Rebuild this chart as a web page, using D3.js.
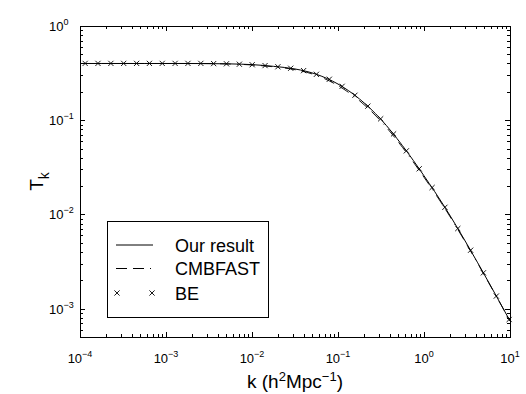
<!DOCTYPE html>
<html>
<head>
<meta charset="utf-8">
<script src="https://cdn.jsdelivr.net/npm/d3@7"></script>
<style>
  body { margin: 0; background: #fff; }
  svg { display: block; font-family: 'Liberation Sans', Arial, sans-serif; }
</style>
</head>
<body>
<div id="chart"></div>
<script>
// curves sampled every quarter decade in k
const curveK = [1e-4, 1.78e-4, 3.16e-4, 5.62e-4, 1e-3, 1.78e-3, 3.16e-3, 5.62e-3, 1e-2, 1.78e-2,
  3.16e-2, 5.62e-2, 0.1, 0.178, 0.316, 0.562, 1, 1.78, 3.16, 5.62, 10];
const ourT = [0.400, 0.400, 0.400, 0.400, 0.400, 0.400, 0.399, 0.396, 0.389, 0.373,
  0.350, 0.307, 0.242, 0.168, 0.102, 0.0537, 0.0257, 0.0116, 0.00484, 0.00192, 0.00074];
const cmbT = [0.400, 0.400, 0.400, 0.400, 0.400, 0.400, 0.399, 0.395, 0.386, 0.369,
  0.344, 0.299, 0.233, 0.161, 0.0975, 0.0515, 0.0248, 0.0113, 0.00475, 0.00190, 0.00074];

// BE points (crosses)
const beK = [1.148e-4, 1.618e-4, 2.286e-4, 3.221e-4, 4.550e-4, 6.412e-4, 9.036e-4, 1.276e-3,
  1.799e-3, 2.541e-3, 3.581e-3, 5.047e-3, 7.129e-3, 1.005e-2, 1.419e-2, 2.000e-2, 2.818e-2,
  3.981e-2, 5.610e-2, 7.925e-2, 0.1117, 0.1574, 0.2223, 0.3133, 0.4426, 0.6237, 0.8790,
  1.242, 1.750, 2.472, 3.483, 4.909, 6.934, 9.772];
const beT = [0.401, 0.401, 0.401, 0.401, 0.401, 0.401, 0.401, 0.401, 0.401, 0.401, 0.399,
  0.397, 0.393, 0.388, 0.380, 0.369, 0.356, 0.336, 0.307, 0.272, 0.229, 0.184, 0.141,
  0.1035, 0.0716, 0.0473, 0.0305, 0.0193, 0.0119, 0.00708, 0.00417, 0.00240, 0.00136, 0.000767];

const kTicks = [1e-4, 1e-3, 1e-2, 1e-1, 1, 10];
const kTickExp = ['\u22124', '\u22123', '\u22122', '\u22121', '0', '1'];
const tTicks = [1e-3, 1e-2, 1e-1, 1];
const tTickExp = ['\u22123', '\u22122', '\u22121', '0'];

const legendNames = ['Our result', 'CMBFAST', 'BE'];

const width = 526, height = 394;
const plotL = 80, plotR = 510, plotT = 26, plotB = 337;

const svg = d3.select('#chart').append('svg')
  .attr('width', width)
  .attr('height', height);

const x = d3.scaleLog().domain([1e-4, 10]).range([plotL, plotR]);
const y = d3.scaleLog().domain([5e-4, 1]).range([plotB, plotT]);

// minor ticks: 2..9 times each decade inside the domain
const minors = (scale) => {
  const [a, b] = scale.domain();
  const out = [];
  for (let e = -5; e <= 1; e++) {
    for (let m = 2; m <= 9; m++) {
      const v = m * Math.pow(10, e);
      if (v > a * 1.0001 && v < b * 0.9999) out.push(v);
    }
  }
  return out;
};

const axisGroup = svg.append('g').attr('class', 'axes');
const addAxis = (axisFn, scale, values, size, transform) => {
  const g = axisGroup.append('g')
    .attr('transform', transform)
    .call(axisFn(scale).tickValues(values).tickSize(-size).tickFormat(''));
  g.select('.domain').remove();
  g.selectAll('line').attr('stroke', '#000').attr('shape-rendering', 'crispEdges');
};

[[kTicks, 5], [minors(x), 3]].forEach(([vals, size]) => {
  addAxis(d3.axisBottom, x, vals, size, `translate(0,${plotB})`);
  addAxis(d3.axisTop, x, vals, size, `translate(0,${plotT})`);
});
[[tTicks, 5], [minors(y), 3]].forEach(([vals, size]) => {
  addAxis(d3.axisLeft, y, vals, size, `translate(${plotL},0)`);
  addAxis(d3.axisRight, y, vals, size, `translate(${plotR},0)`);
});

svg.append('rect')
  .attr('x', plotL + 0.5).attr('y', plotT + 0.5)
  .attr('width', plotR - plotL).attr('height', plotB - plotT)
  .attr('fill', 'none')
  .attr('stroke', '#000')
  .attr('shape-rendering', 'crispEdges');

// tick labels, 10 with superscript exponent
const xl = svg.append('g').selectAll('text').data(kTicks).enter().append('text')
  .attr('x', d => x(d))
  .attr('y', 363)
  .attr('text-anchor', 'middle')
  .attr('font-size', 13);
xl.append('tspan').text('10');
xl.append('tspan').attr('dy', -6).attr('font-size', 9).text((d, i) => kTickExp[i]);

const yl = svg.append('g').selectAll('text').data(tTicks).enter().append('text')
  .attr('x', 49)
  .attr('y', d => y(d) + 5)
  .attr('font-size', 13);
yl.append('tspan').text('10');
yl.append('tspan').attr('dy', -6).attr('font-size', 9).text((d, i) => tTickExp[i]);

// axis titles
const xt = svg.append('text')
  .attr('x', (plotL + plotR) / 2)
  .attr('y', 388)
  .attr('text-anchor', 'middle')
  .attr('font-size', 19);
xt.append('tspan').text('k (h');
xt.append('tspan').attr('dy', -7).attr('font-size', 13).text('2');
xt.append('tspan').attr('dy', 7).text('Mpc');
xt.append('tspan').attr('dy', -7).attr('font-size', 13).text('\u22121');
xt.append('tspan').attr('dy', 7).text(')');

const yt = svg.append('text')
  .attr('transform', `translate(43,${(plotT + plotB) / 2}) rotate(-90)`)
  .attr('text-anchor', 'middle')
  .attr('font-size', 19);
yt.append('tspan').text('T');
yt.append('tspan').attr('dy', 6).attr('font-size', 14).text('k');

// curves
const line = d3.line()
  .x(d => x(d[0]))
  .y(d => y(d[1]))
  .curve(d3.curveMonotoneX);

const plot = svg.append('g');
plot.append('path')
  .datum(d3.zip(curveK, cmbT))
  .attr('d', line)
  .attr('fill', 'none')
  .attr('stroke', '#000')
  .attr('stroke-width', 0.9)
  .attr('stroke-dasharray', '11,6,11,6,1,6');
plot.append('path')
  .datum(d3.zip(curveK, ourT))
  .attr('d', line)
  .attr('fill', 'none')
  .attr('stroke', '#000')
  .attr('stroke-width', 1);

const cross = (g, cx, cy, r) => {
  g.append('path')
    .attr('d', `M${cx - r},${cy - r}L${cx + r},${cy + r}M${cx - r},${cy + r}L${cx + r},${cy - r}`)
    .attr('fill', 'none')
    .attr('stroke', '#000')
    .attr('stroke-width', 0.9);
};
const beG = plot.append('g');
d3.zip(beK, beT).forEach(([k, t]) => cross(beG, x(k), y(t), 2.6));

// legend
const lg = svg.append('g');
lg.append('rect')
  .attr('x', 107.5).attr('y', 221.5)
  .attr('width', 161).attr('height', 96)
  .attr('fill', '#fff')
  .attr('stroke', '#000')
  .attr('shape-rendering', 'crispEdges');
const rowY = [245, 268.5, 293];
lg.append('line')
  .attr('x1', 116).attr('x2', 153).attr('y1', rowY[0]).attr('y2', rowY[0])
  .attr('stroke', '#000');
lg.append('line')
  .attr('x1', 116).attr('x2', 153).attr('y1', rowY[1]).attr('y2', rowY[1])
  .attr('stroke', '#000')
  .attr('stroke-dasharray', '11,6,11,6,1,6');
cross(lg, 117, rowY[2], 2.6);
cross(lg, 152, rowY[2], 2.6);
lg.selectAll('text').data(legendNames).enter().append('text')
  .attr('x', 175)
  .attr('y', (d, i) => rowY[i] + 6.5)
  .attr('font-size', 18)
  .text(d => d);
</script>
</body>
</html>
